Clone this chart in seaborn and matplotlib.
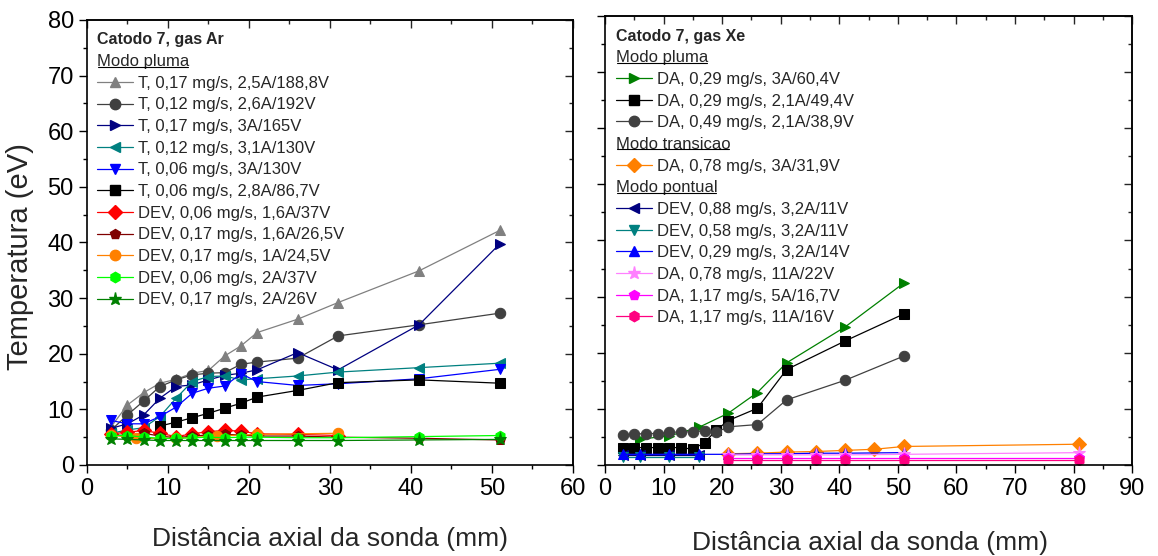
import matplotlib
matplotlib.use("Agg")
import matplotlib.pyplot as plt
import seaborn as sns
from matplotlib.lines import Line2D
from matplotlib.ticker import MultipleLocator
from matplotlib.transforms import IdentityTransform

sns.set_theme(style="ticks")
plt.rcParams["font.family"] = ["Liberation Sans", "DejaVu Sans"]

# --- Ar (left panel) ---
x_ar = [3, 5, 7, 9, 11, 13, 15, 17, 19, 21, 26, 31, 41, 51]
ar_t_017_25 = [6.9, 10.8, 13.0, 14.7, 15.4, 16.5, 17.0, 19.6, 21.4, 23.8, 26.2, 29.2, 34.9, 42.2]
ar_t_012_26 = [6.3, 9.0, 11.5, 14.1, 15.3, 16.2, 16.5, 16.6, 18.1, 18.5, 19.2, 23.2, 25.2, 27.3]
ar_t_017_3 = [6.6, 7.4, 9.0, 12.0, 14.1, 14.4, 15.3, 16.1, 16.5, 17.1, 20.2, 17.1, 25.2, 39.8]
ar_t_012_31 = [5.7, 6.3, 6.7, 8.7, 12.0, 15.0, 15.9, 16.0, 15.3, 15.5, 16.0, 16.7, 17.5, 18.3]
ar_t_006_3 = [8.0, 7.4, 7.4, 8.7, 10.4, 12.9, 13.8, 14.2, 16.4, 15.0, 14.3, 14.6, 15.5, 17.2]
x_ar_sq = [9, 11, 13, 15, 17, 19, 21, 26, 31, 41, 51]
ar_t_006_28 = [7.0, 7.7, 8.5, 9.3, 10.2, 11.1, 12.2, 13.4, 14.8, 15.3, 14.7]
x_ar_red = [3, 5, 7, 9, 11, 13, 15, 17, 19, 21, 26, 31]
ar_dev_006_16 = [5.6, 5.9, 6.2, 5.7, 5.1, 5.6, 6.0, 6.2, 6.1, 5.6, 5.5, 5.3]
ar_dev_017_16 = [5.4, 5.3, 5.7, 5.2, 4.9, 5.2, 5.4, 5.5, 5.4, 5.2, 5.2, 5.0, 4.8, 4.5]
x_ar_or = [3, 6, 11, 16, 21, 31]
ar_dev_017_1 = [5.4, 4.8, 4.8, 5.2, 5.5, 5.7]
ar_dev_006_2 = [5.3, 5.3, 5.0, 4.8, 4.8, 4.9, 5.0, 4.9, 5.0, 5.0, 4.9, 4.9, 5.1, 5.3]
ar_dev_017_2 = [4.7, 4.6, 4.5, 4.4, 4.4, 4.4, 4.4, 4.4, 4.4, 4.4, 4.4, 4.4, 4.5, 4.6]

# --- Xe (right panel) ---
x_xe_gr = [6, 11, 16, 21, 26, 31, 41, 51]
xe_da_029_3 = [4.6, 5.2, 6.7, 9.2, 12.9, 18.2, 24.6, 32.4]
x_xe = [3, 5, 7, 9, 11, 13, 15, 17, 19, 21, 26, 31, 41, 51]
xe_da_029_21 = [3.1, 3.1, 3.1, 3.1, 3.1, 3.1, 2.8, 4.0, 6.2, 7.9, 10.1, 17.0, 22.1, 26.9]
xe_da_049_21 = [5.3, 5.5, 5.6, 5.6, 5.8, 5.9, 5.9, 6.1, 5.8, 6.8, 7.2, 11.6, 15.1, 19.4]
x_xe_or = [21, 26, 31, 36, 41, 46, 51, 81]
xe_da_078_3 = [2.0, 2.1, 2.3, 2.4, 2.6, 2.8, 3.3, 3.7]
x_xe_dev = [3, 6, 11, 16]
xe_dev_088 = [1.8, 1.8, 1.8, 1.8]
xe_dev_058 = [1.5, 1.5, 1.5, 1.5]
x_xe_blue = [3, 6, 11, 16, 21, 26, 31, 36, 41, 51]
xe_dev_029 = [1.9, 1.9, 1.9, 1.9, 1.9, 2.0, 2.0, 2.1, 2.1, 2.2]
x_xe_da = [21, 26, 31, 36, 41, 51, 81]
xe_da_078_11 = [1.8, 1.8, 1.8, 1.8, 1.8, 1.9, 2.2]
xe_da_117_5 = [1.3, 1.3, 1.3, 1.3, 1.3, 1.3, 1.3]
xe_da_117_11 = [0.9, 0.9, 0.9, 0.9, 0.9, 0.9, 0.9]

# (label, x, y, color, marker) ; None x -> header row
left_rows = [
    ("Catodo 7, gas Ar", None, None, "bold", None),
    ("Modo pluma", None, None, "under", None),
    ("T, 0,17 mg/s, 2,5A/188,8V", x_ar, ar_t_017_25, "#808080", "^"),
    ("T, 0,12 mg/s, 2,6A/192V", x_ar, ar_t_012_26, "#404040", "o"),
    ("T, 0,17 mg/s, 3A/165V", x_ar, ar_t_017_3, "#000080", ">"),
    ("T, 0,12 mg/s, 3,1A/130V", x_ar, ar_t_012_31, "#008080", "<"),
    ("T, 0,06 mg/s, 3A/130V", x_ar, ar_t_006_3, "#0000ff", "v"),
    ("T, 0,06 mg/s, 2,8A/86,7V", x_ar_sq, ar_t_006_28, "#000000", "s"),
    ("DEV, 0,06 mg/s, 1,6A/37V", x_ar_red, ar_dev_006_16, "#ff0000", "D"),
    ("DEV, 0,17 mg/s, 1,6A/26,5V", x_ar, ar_dev_017_16, "#800000", "p"),
    ("DEV, 0,17 mg/s, 1A/24,5V", x_ar_or, ar_dev_017_1, "#ff8000", "o"),
    ("DEV, 0,06 mg/s, 2A/37V", x_ar, ar_dev_006_2, "#00ff00", "h"),
    ("DEV, 0,17 mg/s, 2A/26V", x_ar, ar_dev_017_2, "#008000", "*"),
]
right_rows = [
    ("Catodo 7, gas Xe", None, None, "bold", None),
    ("Modo pluma", None, None, "under", None),
    ("DA, 0,29 mg/s, 3A/60,4V", x_xe_gr, xe_da_029_3, "#008000", ">"),
    ("DA, 0,29 mg/s, 2,1A/49,4V", x_xe, xe_da_029_21, "#000000", "s"),
    ("DA, 0,49 mg/s, 2,1A/38,9V", x_xe, xe_da_049_21, "#404040", "o"),
    ("Modo transicao", None, None, "under", None),
    ("DA, 0,78 mg/s, 3A/31,9V", x_xe_or, xe_da_078_3, "#ff8000", "D"),
    ("Modo pontual", None, None, "under", None),
    ("DEV, 0,88 mg/s, 3,2A/11V", x_xe_dev, xe_dev_088, "#000080", "<"),
    ("DEV, 0,58 mg/s, 3,2A/11V", x_xe_dev, xe_dev_058, "#008080", "v"),
    ("DEV, 0,29 mg/s, 3,2A/14V", x_xe_blue, xe_dev_029, "#0000ff", "^"),
    ("DA, 0,78 mg/s, 11A/22V", x_xe_da, xe_da_078_11, "#ff80ff", "*"),
    ("DA, 1,17 mg/s, 5A/16,7V", x_xe_da, xe_da_117_5, "#ff00ff", "p"),
    ("DA, 1,17 mg/s, 11A/16V", x_xe_da, xe_da_117_11, "#ff0080", "h"),
]

fig = plt.figure(figsize=(11.58, 5.56), dpi=100)
ax_l = fig.add_axes([0.0751, 0.1637, 0.4197, 0.8004])
ax_r = fig.add_axes([0.5225, 0.1637, 0.4551, 0.8075])


def draw_panel(ax, rows, xmax):
    handles, labels, kinds = [], [], []
    for label, xs, ys, color, marker in rows:
        if xs is None:
            handles.append(Line2D([], [], linestyle="none"))
            labels.append(label)
            kinds.append(color)
            continue
        ms = 9.5 if marker == "*" else 7.5
        sns.lineplot(x=xs, y=ys, ax=ax, color=color, marker=marker, markersize=ms,
                     markeredgecolor=color, linewidth=0.9, legend=False)
        handles.append(Line2D([], [], color=color, marker=marker, markersize=ms,
                              markeredgecolor=color, linewidth=0.9))
        labels.append(label)
        kinds.append("row")

    ax.set_xlim(0, xmax)
    ax.set_ylim(0, 80)
    ax.xaxis.set_major_locator(MultipleLocator(10))
    ax.xaxis.set_minor_locator(MultipleLocator(5))
    ax.yaxis.set_major_locator(MultipleLocator(10))
    ax.yaxis.set_minor_locator(MultipleLocator(5))
    ax.tick_params(which="both", direction="out", width=1.0, labelsize=17, colors="black")
    ax.tick_params(which="major", length=6)
    ax.tick_params(which="minor", length=3)
    for sp in ax.spines.values():
        sp.set_linewidth(1.2)
        sp.set_color("black")
    # top / right ticks pointing in
    top = ax.secondary_xaxis("top")
    right = ax.secondary_yaxis("right")
    for sec, axis in ((top, top.xaxis), (right, right.yaxis)):
        axis.set_major_locator(MultipleLocator(10))
        axis.set_minor_locator(MultipleLocator(5))
        sec.tick_params(which="both", direction="in", width=1.0, labelsize=0,
                        labeltop=False, labelright=False)
        sec.tick_params(which="major", length=6)
        sec.tick_params(which="minor", length=3)
        for sp in sec.spines.values():
            sp.set_linewidth(1.2)

    ax.set_xlabel("Distância axial da sonda (mm)", fontsize=19)
    ax.set_ylabel("")

    leg = ax.legend(handles, labels, loc="upper left", bbox_to_anchor=(0.02, 0.972),
                    frameon=False, fontsize=12, handlelength=2.2, handletextpad=0.3,
                    labelspacing=0.40, borderpad=0, borderaxespad=0)
    rows_box = leg._legend_handle_box.get_children()[0].get_children()
    heads = []
    for row, text, kind in zip(rows_box, leg.get_texts(), kinds):
        if kind != "row":
            row.get_children()[0].width = 0
            row.sep = 0
            heads.append((text, kind))
            if kind == "bold":
                text.set_fontweight("bold")
                text.set_fontsize(11.5)
    return heads


heads = draw_panel(ax_l, left_rows, 60) + draw_panel(ax_r, right_rows, 90)
ax_r.tick_params(axis="y", labelleft=False)
ax_l.set_ylabel("Temperatura (eV)", fontsize=21)
ax_l.yaxis.set_label_coords(-0.108, 0.468)
ax_l.xaxis.set_label_coords(0.5, -0.14)
ax_r.xaxis.set_label_coords(0.503, -0.147)

# underline the legend section headers
fig.canvas.draw()
renderer = fig.canvas.get_renderer()
for text, kind in heads:
    if kind == "under":
        bb = text.get_window_extent(renderer)
        fig.add_artist(Line2D([bb.x0 + 1, bb.x1 - 1], [bb.y0 + 2.5, bb.y0 + 2.5],
                              color="black", linewidth=0.8, transform=IdentityTransform()))

fig.savefig("out.png", dpi=100)
